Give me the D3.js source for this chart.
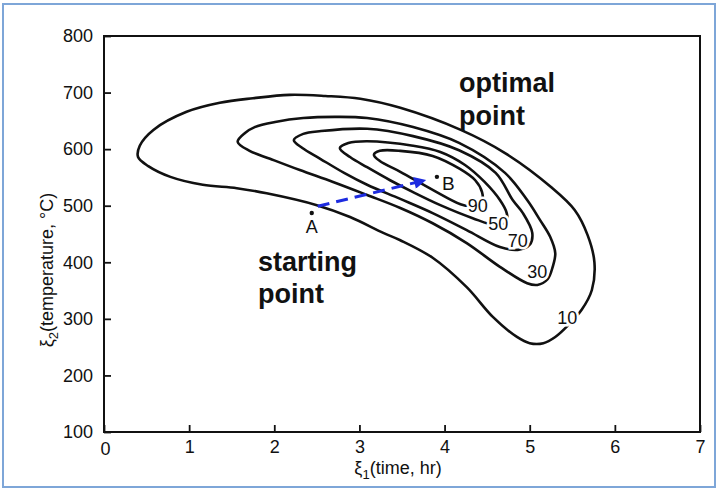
<!DOCTYPE html>
<html><head><meta charset="utf-8">
<script src="https://cdn.jsdelivr.net/npm/d3@7"></script>
<style>
body{margin:0;background:#fff}
svg{display:block}
text{font-family:"Liberation Sans",Arial,Helvetica,sans-serif;fill:#111}
</style>
</head><body>
<svg id="chart" width="720" height="491"></svg>
<script>
// ---- data ----
const xTicks = [0, 1, 2, 3, 4, 5, 6, 7];
const yTicks = [100, 200, 300, 400, 500, 600, 700, 800];
const contourLevels = [10, 30, 70, 50, 90];
const contour10 = [[0.40,586],[0.42,606],[0.58,634],[0.97,666],[1.36,682],[1.75,690],[2.18,696],[2.60,694],[3.01,689],[3.48,673],[4.19,634],[4.71,593],[5.25,533],[5.53,492],[5.68,448],[5.76,400],[5.73,351],[5.61,316],[5.44,287],[5.30,268],[5.16,257],[5.00,257],[4.85,268],[4.57,303],[4.26,356],[3.86,408],[3.48,439],[3.28,452],[2.89,480],[2.50,501],[1.91,522],[1.56,531],[1.16,537],[0.78,551],[0.52,570]];
const contour30 = [[1.57,613],[1.66,629],[1.77,639],[2.01,648],[2.34,655],[2.71,657],[3.09,655],[3.63,639],[4.17,611],[4.71,558],[4.97,510],[5.12,475],[5.24,445],[5.30,416],[5.27,392],[5.21,370],[5.09,360],[4.97,363],[4.65,392],[4.26,434],[3.86,469],[3.48,496],[3.09,519],[2.69,542],[2.30,563],[1.95,583],[1.71,597]];
const contour70 = [[2.23,616],[2.34,627],[2.55,632],[3.09,636],[3.63,623],[4.17,598],[4.60,558],[4.80,510],[4.92,487],[5.03,452],[5.00,431],[4.86,422],[4.65,427],[4.26,457],[3.86,487],[3.48,512],[3.09,537],[2.82,558],[2.54,583],[2.33,602]];
const contour50 = [[2.77,602],[2.87,611],[3.09,614],[3.63,606],[3.95,595],[4.24,572],[4.47,542],[4.65,510],[4.73,487],[4.73,471],[4.59,466],[4.33,478],[3.95,501],[3.63,524],[3.36,545],[3.09,568],[2.89,586]];
const contour90 = [[3.17,590],[3.24,597],[3.48,597],[3.86,588],[4.18,565],[4.36,545],[4.44,524],[4.44,507],[4.30,499],[4.18,503],[3.86,528],[3.48,560],[3.24,579]];
const contourShapes = [contour10, contour30, contour70, contour50, contour90];
const labelText = ["10", "30", "70", "50", "90"];
const labelX = [5.44, 5.09, 4.86, 4.63, 4.39];
const labelY = [303, 383, 439, 469, 501];
const pointNames = ["A", "B"];
const pointX = [2.44, 3.91];
const pointY = [487, 551];
const arrowFrom = [2.51, 499];
const arrowTo = [3.77, 545];

// ---- layout ----
const svg = d3.select("#chart");
const mLeft = 104, mRight = 700, mTop = 36, mBottom = 432;
const x = d3.scaleLinear().domain([0, 7]).range([mLeft, mRight]);
const y = d3.scaleLinear().domain([100, 800]).range([mBottom, mTop]);

// outer blue frame
svg.append("rect").attr("x", 3).attr("y", 4).attr("width", 712).attr("height", 483)
  .attr("fill", "none").attr("stroke", "#7ea6d8").attr("stroke-width", 2);

// axes
const gx = svg.append("g").attr("transform", `translate(0,${mBottom})`)
  .call(d3.axisBottom(x).tickValues(xTicks).tickSize(-7).tickPadding(8).tickFormat(d3.format("d")));
const gy = svg.append("g").attr("transform", `translate(${mLeft},0)`)
  .call(d3.axisLeft(y).tickValues(yTicks).tickSize(-7).tickPadding(11).tickFormat(d3.format("d")));
[gx, gy].forEach(g => {
  g.select(".domain").remove();
  g.selectAll(".tick line").attr("stroke", "#111").attr("stroke-width", 1.8);
  g.selectAll(".tick text").style("font-size", "18px").attr("fill", "#111");
});
gx.selectAll(".tick text").attr("dy", "0.72em");
gx.selectAll(".tick").filter(d => d === 0).select("text").attr("dx", 1).attr("dy", "0.85em");

svg.append("rect").attr("x", mLeft).attr("y", mTop).attr("width", mRight - mLeft).attr("height", mBottom - mTop)
  .attr("fill", "none").attr("stroke", "#111").attr("stroke-width", 2);

// axis titles
const xt = svg.append("text").attr("x", 398).attr("y", 474).attr("text-anchor", "middle").style("font-size", "18px");
xt.append("tspan").text("ξ");
xt.append("tspan").attr("dy", 5).style("font-size", "13px").text("1");
xt.append("tspan").attr("dy", -5).text("(time, hr)");

const yt = svg.append("text").attr("transform", "translate(53,270) rotate(-90)").attr("text-anchor", "middle").style("font-size", "18px");
yt.append("tspan").text("ξ");
yt.append("tspan").attr("dy", 5).style("font-size", "13px").text("2");
yt.append("tspan").attr("dy", -5).text("(temperature, °C)");

// contours
const line = d3.line().x(d => x(d[0])).y(d => y(d[1])).curve(d3.curveCatmullRomClosed.alpha(0.5));
svg.append("g").selectAll("path").data(contourShapes).join("path")
  .attr("d", line).attr("fill", "none").attr("stroke", "#111").attr("stroke-width", 2.6);

// contour labels
svg.append("g").selectAll("text").data(labelText).join("text")
  .attr("x", (d, i) => x(labelX[i])).attr("y", (d, i) => y(labelY[i]))
  .attr("text-anchor", "middle").attr("dy", "0.36em")
  .style("font-size", "18px")
  .attr("stroke", "#fff").attr("stroke-width", 5).attr("paint-order", "stroke")
  .text(d => d);

// arrow
const defs = svg.append("defs");
defs.append("marker").attr("id", "ah").attr("viewBox", "0 0 10 10").attr("refX", 9).attr("refY", 5)
  .attr("markerWidth", 5).attr("markerHeight", 4).attr("markerUnits", "strokeWidth").attr("orient", "auto")
  .append("path").attr("d", "M0,0L10,5L0,10Z").attr("fill", "#1d2be0");
svg.append("line")
  .attr("x1", x(arrowFrom[0])).attr("y1", y(arrowFrom[1]))
  .attr("x2", x(arrowTo[0])).attr("y2", y(arrowTo[1]))
  .attr("stroke", "#1d2be0").attr("stroke-width", 3).attr("stroke-dasharray", "12,7")
  .attr("marker-end", "url(#ah)");

// points
svg.append("g").selectAll("circle").data(pointNames).join("circle")
  .attr("cx", (d, i) => x(pointX[i])).attr("cy", (d, i) => y(pointY[i])).attr("r", 2.2).attr("fill", "#111");
svg.append("text").attr("x", x(pointX[0])).attr("y", y(pointY[0]) + 20).attr("text-anchor", "middle")
  .style("font-size", "18px").text(pointNames[0]);
svg.append("text").attr("x", x(pointX[1]) + 5).attr("y", y(pointY[1]) + 13)
  .style("font-size", "19px").text(pointNames[1]);

// annotations
const annot = [["optimal", 4.17, 701], ["point", 4.17, 643], ["starting", 1.81, 385], ["point", 1.81, 328]];
svg.append("g").selectAll("text").data(annot).join("text")
  .attr("x", d => x(d[1])).attr("y", d => y(d[2]))
  .style("font-size", "27px").style("font-weight", "bold").text(d => d[0]);
</script>
</body></html>
